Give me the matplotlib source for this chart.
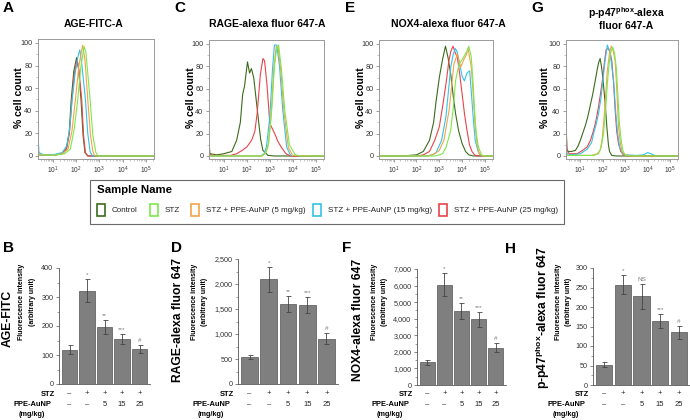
import matplotlib
matplotlib.use('Agg')
import matplotlib.pyplot as plt
import numpy as np
from matplotlib.patches import Rectangle
from matplotlib.transforms import blended_transform_factory
from matplotlib.ticker import (FuncFormatter, MultipleLocator, LogLocator,
                               FixedLocator, NullFormatter)

plt.rcParams['font.family'] = ['Liberation Sans', 'DejaVu Sans']
plt.rcParams['mathtext.default'] = 'regular'

# ---------------- data ----------------
samples = ['Control', 'STZ', 'STZ + PPE-AuNP (5 mg/kg)',
           'STZ + PPE-AuNP (15 mg/kg)', 'STZ + PPE-AuNP (25 mg/kg)']
colors = ['#3b6b1c', '#7de84c', '#f5a24a', '#35c2e8', '#e8444a']

# histogram curves: (log10 intensity, % cell count)
age_control = [(0.36,4),(0.42,1),(1.0,0.5),(1.4,2),(1.57,6),(1.7,20),(1.79,50),(1.9,75),(2.02,87),(2.1,78),(2.21,50),(2.3,18),(2.38,3),(2.5,0),(5.35,0)]
age_stz = [(0.36,3),(0.42,1),(1.0,0.5),(1.5,2),(1.75,6),(1.92,24),(2.07,50),(2.2,78),(2.34,97),(2.42,92),(2.6,50),(2.72,18),(2.85,3),(2.95,0),(5.35,0)]
age_d5 = [(0.36,6),(0.42,1),(1.0,0.5),(1.4,2),(1.65,6),(1.82,22),(1.97,50),(2.12,80),(2.28,98),(2.38,85),(2.5,50),(2.62,18),(2.72,4),(2.8,0),(5.35,0)]
age_d15 = [(0.36,20),(0.4,3),(0.6,1),(1.0,1),(1.4,3),(1.6,9),(1.72,24),(1.83,50),(1.95,72),(2.08,88),(2.16,94),(2.25,80),(2.4,50),(2.5,20),(2.6,4),(2.7,0),(5.35,0)]
age_d25 = [(0.36,5),(0.42,1),(1.0,0.5),(1.4,2),(1.6,7),(1.72,22),(1.82,50),(1.93,74),(2.04,85),(2.12,76),(2.24,50),(2.32,18),(2.4,3),(2.5,0),(5.35,0)]

rage_control = [(0.36,13),(0.4,2),(0.7,1),(1.0,2),(1.35,4),(1.56,14),(1.72,30),(1.82,55),(1.9,62),(2.03,84),(2.12,74),(2.2,78),(2.3,70),(2.49,35),(2.6,15),(2.7,5),(2.92,0.5),(3.2,0),(5.35,0)]
rage_stz = [(0.36,0),(2.65,0),(2.82,3),(2.95,12),(3.07,38),(3.2,80),(3.3,96),(3.38,99),(3.5,78),(3.65,40),(3.85,10),(4.1,1),(4.3,0),(5.35,0)]
rage_d5 = [(0.36,0),(2.65,0),(2.8,2),(2.92,8),(3.05,35),(3.18,80),(3.28,98),(3.36,97),(3.48,75),(3.62,38),(3.8,8),(3.98,0.5),(5.35,0)]
rage_d15 = [(0.36,0),(2.6,0),(2.75,2),(2.85,8),(3.0,35),(3.12,79),(3.2,99),(3.3,99),(3.42,80),(3.56,41),(3.73,8),(3.9,0.5),(5.35,0)]
rage_d25 = [(0.36,2),(0.5,0.5),(1.3,0.5),(1.56,2),(1.8,5),(2.0,8),(2.21,14),(2.35,22),(2.45,38),(2.59,73),(2.7,87),(2.77,85),(2.87,65),(3.0,29),(3.21,20),(3.35,13),(3.49,8),(3.7,2),(3.9,0),(5.35,0)]

nox_control = [(0.36,0),(1.4,0),(2.0,1),(2.3,4),(2.57,14),(2.75,30),(2.86,49),(3.0,70),(3.14,86),(3.27,98),(3.38,88),(3.5,73),(3.6,55),(3.71,38),(3.85,22),(4.0,11),(4.15,4),(4.29,1),(4.5,0),(5.35,0)]
nox_stz = [(0.36,0),(2.8,0),(3.0,1),(3.14,2),(3.3,8),(3.5,23),(3.62,45),(3.71,67),(3.86,82),(4.0,86),(4.14,91),(4.22,94),(4.29,98),(4.4,88),(4.48,65),(4.54,41),(4.62,20),(4.71,8),(4.86,0.5),(5.0,0),(5.35,0)]
nox_d5 = [(0.36,0),(2.5,0),(2.8,2),(3.0,5),(3.2,14),(3.43,41),(3.55,65),(3.64,82),(3.79,91),(3.93,79),(4.07,86),(4.18,90),(4.26,96),(4.4,79),(4.5,50),(4.57,26),(4.66,10),(4.74,2),(4.9,0),(5.35,0)]
nox_d15 = [(0.36,0),(2.4,0),(2.7,1),(2.86,3),(3.1,14),(3.29,35),(3.4,58),(3.5,79),(3.6,90),(3.7,96),(3.78,93),(3.86,85),(4.0,71),(4.1,67),(4.21,74),(4.33,76),(4.43,49),(4.5,30),(4.57,14),(4.7,4),(4.79,1),(4.95,0),(5.35,0)]
nox_d25 = [(0.36,0),(2.0,0),(2.3,1),(2.57,4),(2.8,14),(3.0,26),(3.15,45),(3.29,64),(3.42,85),(3.5,93),(3.6,98),(3.7,92),(3.79,88),(3.9,72),(4.0,55),(4.1,38),(4.21,23),(4.32,10),(4.43,4),(4.57,0.5),(4.8,0),(5.35,0)]

p47_control = [(0.36,28),(0.4,6),(0.46,4),(0.6,4),(0.78,5),(0.9,9),(1.0,14),(1.1,20),(1.22,27),(1.33,35),(1.44,45),(1.55,55),(1.66,67),(1.75,77),(1.81,83),(1.88,87),(1.94,80),(2.0,70),(2.1,48),(2.18,26),(2.25,10),(2.3,4),(2.4,0.5),(2.6,0),(5.35,0)]
p47_stz = [(0.36,2),(0.42,0.5),(1.6,0.5),(1.81,2),(1.93,8),(2.03,20),(2.12,40),(2.2,64),(2.27,80),(2.33,91),(2.44,97),(2.52,92),(2.6,79),(2.67,55),(2.74,29),(2.82,14),(2.89,5),(3.0,0.5),(3.2,0),(5.35,0)]
p47_d5 = [(0.36,3),(0.42,0.5),(1.5,0.5),(1.75,2),(1.88,5),(1.97,15),(2.06,35),(2.13,55),(2.2,76),(2.3,92),(2.38,98),(2.46,94),(2.55,85),(2.62,60),(2.7,26),(2.78,12),(2.85,4),(3.0,1),(3.3,0),(5.35,0)]
p47_d15 = [(0.36,10),(0.4,2),(0.6,1),(1.0,2),(1.3,6),(1.5,12),(1.59,20),(1.7,28),(1.81,38),(1.92,52),(2.0,67),(2.1,85),(2.2,99),(2.28,95),(2.35,88),(2.48,67),(2.58,38),(2.66,20),(2.75,8),(2.85,3),(3.0,1),(3.5,0.5),(3.8,1),(4.0,3),(4.15,2),(4.3,0.5),(4.6,0),(5.35,0)]
p47_d25 = [(0.36,32),(0.4,5),(0.5,2),(0.85,2),(1.1,5),(1.3,8),(1.45,14),(1.59,23),(1.7,32),(1.81,44),(1.9,56),(2.0,70),(2.08,85),(2.15,95),(2.25,96),(2.33,92),(2.4,85),(2.48,65),(2.55,41),(2.62,22),(2.7,11),(2.8,4),(2.92,1),(3.1,0),(5.35,0)]

hist_ticks = [1, 2, 3, 4, 5]

# bar charts
stz_row = ['–', '+', '+', '+', '+']
dose_row = ['–', '–', '5', '15', '25']
age_mean = [118, 322, 197, 155, 122]
age_err = [15, 40, 23, 18, 14]
age_sig = ['', '*', '**', '***', '#']
rage_mean = [540, 2100, 1600, 1580, 910]
rage_err = [45, 250, 165, 160, 105]
rage_sig = ['', '*', '**', '***', '#']
nox_mean = [1370, 6050, 4470, 3970, 2260]
nox_err = [150, 680, 480, 460, 250]
nox_sig = ['', '*', '**', '***', '#']
p47_mean = [52, 257, 227, 164, 135]
p47_err = [6, 24, 33, 19, 16]
p47_sig = ['', '*', 'NS', '***', '#']

# ---------------- figure ----------------
W, H = 690, 420
fig = plt.figure(figsize=(6.9, 4.2), dpi=100)
ov = fig.add_axes([0, 0, 1, 1], zorder=10)
ov.set_xlim(0, W); ov.set_ylim(H, 0); ov.axis('off')


def px_axes(l, t, r, b):
    return fig.add_axes([l / W, 1 - b / H, (r - l) / W, (b - t) / H])


def hist_panel(l, t, r, b, curves):
    ax = px_axes(l, t, r, b)
    order = [0, 4, 3, 2, 1]
    for i in order:
        pts = curves[i]
        lx = np.array([p[0] for p in pts])
        yy = [p[1] for p in pts]
        ax.plot(10 ** lx, yy, color=colors[i], lw=0.8)
    ax.set_xscale('log')
    ax.set_xlim(10 ** 0.36, 10 ** 5.35)
    ax.set_ylim(-2.7, 103.5)
    ax.xaxis.set_major_locator(FixedLocator([10.0 ** k for k in hist_ticks]))
    ax.xaxis.set_major_formatter(FuncFormatter(
        lambda v, p: '$10^{%d}$' % int(round(np.log10(v)))))
    ax.xaxis.set_minor_locator(LogLocator(base=10, subs=np.arange(2, 10), numticks=30))
    ax.xaxis.set_minor_formatter(NullFormatter())
    ax.yaxis.set_major_locator(MultipleLocator(20))
    ax.yaxis.set_minor_locator(MultipleLocator(10))
    for s in ax.spines.values():
        s.set_color('#9a9a9a'); s.set_linewidth(0.7)
    ax.tick_params(which='major', length=2.5, width=0.5, color='#777777',
                   labelsize=5.2, labelcolor='#333333', pad=1.5)
    ax.tick_params(which='minor', length=1.3, width=0.4, color='#999999')
    ax.tick_params(axis='x', labelsize=4.8)
    return ax


def bar_panel(l, t, r, b, mean, err, sig, ymax, step, commas):
    ax = px_axes(l, t, r, b)
    x = np.arange(len(mean))
    ax.bar(x, mean, width=0.88, color='#7f7f7f', edgecolor='#555555', linewidth=0.5)
    ax.errorbar(x, mean, yerr=err, fmt='none', ecolor='#444444',
                elinewidth=0.6, capsize=1.8, capthick=0.6)
    for xi, m, e, s in zip(x, mean, err, sig):
        if s:
            ax.annotate(s, (xi, m + e), xytext=(0, 3.2), textcoords='offset points',
                        ha='center', va='center', fontsize=4.6, color='#7a7a7a')
    ax.set_xlim(-0.6, 4.6)
    ax.set_ylim(0, ymax)
    ax.yaxis.set_major_locator(MultipleLocator(step))
    ax.yaxis.set_minor_locator(MultipleLocator(step / 2))
    if commas:
        ax.yaxis.set_major_formatter(FuncFormatter(lambda v, p: f'{int(v):,}'))
    ax.set_xticks([])
    for k in ['top', 'right']:
        ax.spines[k].set_visible(False)
    for k in ['left', 'bottom']:
        ax.spines[k].set_color('#555555'); ax.spines[k].set_linewidth(0.6)
    ax.tick_params(axis='y', which='major', length=2.5, width=0.5, color='#555555',
                   labelsize=5.2, labelcolor='#333333', pad=1.5)
    ax.tick_params(axis='y', which='minor', length=1.5, width=0.4, color='#555555')
    tr = blended_transform_factory(ax.transData, ov.transData)
    for xi, a, d in zip(x, stz_row, dose_row):
        ax.text(xi, 394, a, transform=tr, ha='center', va='center', fontsize=5.5, color='#222222')
        ax.text(xi, 405, d, transform=tr, ha='center', va='center', fontsize=5.5, color='#222222')
    ov.text(l - 4, 394, 'STZ', ha='right', va='center', fontsize=5.4, fontweight='bold')
    ov.text(l - 27, 405, 'PPE-AuNP', ha='center', va='center', fontsize=5.4, fontweight='bold')
    ov.text(l - 27, 415, '(mg/kg)', ha='center', va='center', fontsize=5.2, fontweight='bold')
    return ax


# ---- top histograms ----
hist_panel(38, 39, 154, 159, [age_control, age_stz, age_d5, age_d15, age_d25])
hist_panel(209, 40, 324, 159, [rage_control, rage_stz, rage_d5, rage_d15, rage_d25])
hist_panel(379, 40, 493, 159, [nox_control, nox_stz, nox_d5, nox_d15, nox_d25])
hist_panel(566, 40, 678, 159, [p47_control, p47_stz, p47_d5, p47_d15, p47_d25])

for xl in [19.5, 190.5, 360.5, 545.5]:
    ov.text(xl, 98, '% cell count', rotation=90, ha='center', va='center',
            fontsize=7.5, fontweight='bold')

ov.text(94, 24, 'AGE-FITC-A', ha='center', va='center', fontsize=7.5, fontweight='bold')
ov.text(267, 24, 'RAGE-alexa fluor 647-A', ha='center', va='center', fontsize=7.5, fontweight='bold')
ov.text(448, 24, 'NOX4-alexa fluor 647-A', ha='center', va='center', fontsize=7.5, fontweight='bold')
ov.text(626, 13, 'p-p47$^{phox}$-alexa', ha='center', va='center', fontsize=7.5, fontweight='bold')
ov.text(626, 26, 'fluor 647-A', ha='center', va='center', fontsize=7.5, fontweight='bold')

for lt, xx, yy in [('A', 8, 8), ('C', 180, 8), ('E', 350, 8), ('G', 537, 8),
                   ('B', 8, 248), ('D', 177, 248), ('F', 347, 248), ('H', 510, 249)]:
    ov.text(xx, yy, lt, ha='center', va='center', fontsize=11, fontweight='bold')

# ---- legend ----
ov.add_patch(Rectangle((90, 180), 474, 44, fill=False, edgecolor='#6a6a6a', lw=0.8))
ov.text(97, 190, 'Sample Name', ha='left', va='center', fontsize=8.2, fontweight='bold')
sw_x = [97, 150, 191, 313, 439]
for sx, c, name in zip(sw_x, colors, samples):
    ov.add_patch(Rectangle((sx, 204), 8, 12, fill=False, edgecolor=c, lw=1.2))
    ov.text(sx + 15, 210.5, name, ha='left', va='center', fontsize=5.8, color='#222222')

# ---- bar charts ----
bar_panel(59, 268, 150, 384, age_mean, age_err, age_sig, 400, 100, False)
bar_panel(238, 259, 338, 384, rage_mean, rage_err, rage_sig, 2500, 500, True)
bar_panel(417, 269, 506, 385, nox_mean, nox_err, nox_sig, 7000, 1000, True)
bar_panel(593, 268, 690, 385, p47_mean, p47_err, p47_sig, 300, 50, False)

big_labels = [(8, 318, 'AGE-FITC'), (178, 320, 'RAGE-alexa fluor 647'),
              (358, 320, 'NOX4-alexa fluor 647'), (543, 318, 'p-p47$^{phox}$-alexa fluor 647')]
for xx, yy, s in big_labels:
    ov.text(xx, yy, s, rotation=90, ha='center', va='center', fontsize=8.7, fontweight='bold')

for x1, x2 in [(22, 32), (195, 205), (375, 385), (558, 568)]:
    ov.text(x1, 302, 'Fluorescence intensity', rotation=90, ha='center', va='center',
            fontsize=5, fontweight='bold')
    ov.text(x2, 302, '(arbitrary unit)', rotation=90, ha='center', va='center',
            fontsize=5, fontweight='bold')

fig.savefig('out.png', dpi=100)
